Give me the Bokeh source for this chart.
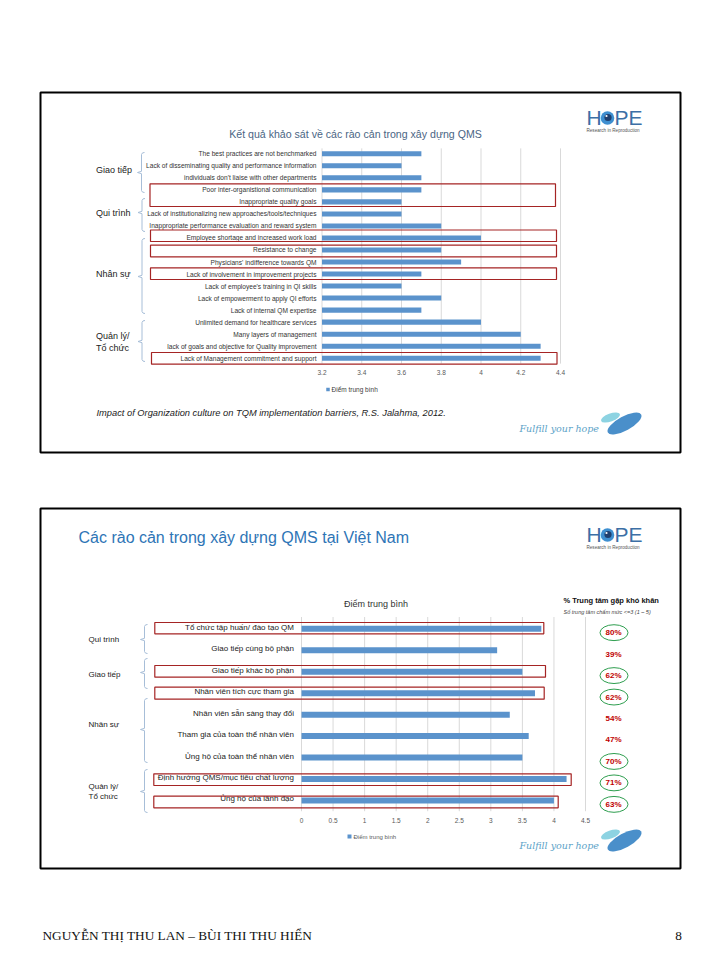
from bokeh.plotting import figure
from bokeh.models import Range1d
from bokeh.embed import file_html
from bokeh.resources import INLINE
from bokeh.core.properties import value

# ---------------- data: slide 1 ----------------
c1_labels = [
    "The best practices are not benchmarked",
    "Lack of disseminating quality and performance information",
    "individuals don't liaise with other departments",
    "Poor inter-organistional communication",
    "Inappropriate quality goals",
    "Lack of institutionalizing new approaches/tools/techniques",
    "Inappropriate performance evaluation and reward system",
    "Employee shortage and increased work load",
    "Resistance to change",
    "Physicians' indifference towards QM",
    "Lack of involvement in improvement projects",
    "Lack of employee's training in QI skills",
    "Lack of empowerment to apply QI efforts",
    "Lack of internal QM expertise",
    "Unlimited demand for healthcare services",
    "Many layers of management",
    "lack of goals and objective for Quality improvement",
    "Lack of Management commitment and support",
]
c1_values = [3.7, 3.6, 3.7, 3.7, 3.6, 3.6, 3.8, 4.0, 3.8, 3.9, 3.7, 3.6, 3.8, 3.7, 4.0, 4.2, 4.3, 4.3]
c1_ticks = [3.2, 3.4, 3.6, 3.8, 4.0, 4.2, 4.4]
c1_tick_labels = ["3.2", "3.4", "3.6", "3.8", "4", "4.2", "4.4"]
c1_groups = ["Giao tiếp", "Qui trình", "Nhân sự", "Quản lý/", "Tổ chức"]
c1_title = "Kết quả khảo sát về các rào cản trong xây dựng QMS"
c1_series = "Điểm trung bình"
c1_source = "Impact of Organization culture on TQM implementation barriers, R.S. Jalahma, 2012."

# ---------------- data: slide 2 ----------------
c2_labels = [
    "Tổ chức tập huấn/ đào tạo QM",
    "Giao tiếp cùng bộ phận",
    "Giao tiếp khác bộ phận",
    "Nhân viên tích cực tham gia",
    "Nhân viên sẵn sàng thay đổi",
    "Tham gia của toàn thể nhân viên",
    "Ủng hộ của toàn thể nhân viên",
    "Định hướng QMS/mục tiêu chất lượng",
    "Ủng hộ của lãnh đạo",
]
c2_values = [3.8, 3.1, 3.5, 3.7, 3.3, 3.6, 3.5, 4.2, 4.0]
c2_pct = ["80%", "39%", "62%", "62%", "54%", "47%", "70%", "71%", "63%"]
c2_circled = [True, False, True, True, False, False, True, True, True]
c2_ticks = [0, 0.5, 1, 1.5, 2, 2.5, 3, 3.5, 4, 4.5]
c2_tick_labels = ["0", "0.5", "1", "1.5", "2", "2.5", "3", "3.5", "4", "4.5"]
c2_groups = ["Qui trình", "Giao tiếp", "Nhân sự", "Quản lý/", "Tổ chức"]
c2_title = "Các rào cản trong xây dựng QMS tại Việt Nam"
c2_series = "Điểm trung bình"
c2_side_title = "% Trung tâm gặp khó khăn"
c2_side_sub = "Số trung tâm chấm mức <=3 (1 – 5)"

footer_left = "NGUYỄN THỊ THU LAN – BÙI THI THU HIỂN"
footer_right = "8"

BAR = "#5B93CC"
GRID = "#D9D9D9"
RED = "#A52424"
FONT = "Liberation Sans"

# page-pixel canvas (page coords, y downward)
p = figure(width=704, height=944, x_range=Range1d(0, 704), y_range=Range1d(944, 0),
           x_axis_type=None, y_axis_type=None, output_backend="svg",
           toolbar_location=None, min_border=0)
p.grid.visible = False
p.outline_line_color = None
p.background_fill_color = "white"


def span_range(v_a, p_a, v_b, p_b, p_start, p_end):
    k = (v_b - v_a) / (p_b - p_a)
    return Range1d(v_a + (p_start - p_a) * k, v_a + (p_end - p_a) * k)


# chart scales placed in the page
p.extra_x_ranges["v1"] = span_range(3.2, 321.5, 4.4, 560.0, 0, 704)
p.extra_y_ranges["r1"] = span_range(0, 153.3, 17, 357.7, 944, 0)
p.extra_x_ranges["v2"] = span_range(0, 301.0, 4.5, 585.0, 0, 704)
p.extra_y_ranges["r2"] = span_range(0, 628.3, 8, 800.0, 944, 0)


def txt(x, y, s, size, color="#222222", align="left", style="normal", font=FONT,
        xr="default", yr="default"):
    xs = x if isinstance(x, list) else [x]
    ys = y if isinstance(y, list) else [y]
    ss = s if isinstance(s, list) else [s]
    p.text(x=xs, y=ys, text=ss, text_font=value(font), text_font_size=f"{size}px",
           text_color=color, text_align=align, text_baseline="middle",
           text_font_style=style, x_range_name=xr, y_range_name=yr)


def box(l, r, t, b, color=RED, width=1.2):
    p.quad(left=l, right=r, top=t, bottom=b, fill_color=None, line_color=color, line_width=width)


def bracket(x, top, mid, bottom, color="#A7BED8"):
    xs = [x + 3, x + 1, x, x, x - 4, x, x, x + 1, x + 3]
    ys = [top, top + 0.4, top + 2, mid - 1.2, mid, mid + 1.2, bottom - 2, bottom - 0.4, bottom]
    p.line(xs, ys, line_color=color, line_width=1)


def hope_logo(dy):
    txt(586, 117 + dy, "H", 21, color="#3C6FA6", font="Liberation Sans")
    p.circle(x=[607], y=[117.5 + dy], radius=6.8, fill_color="#3E8FD0", line_color=None)
    p.circle(x=[607.5], y=[117 + dy], radius=3.6, fill_color="#1F3F6E", line_color=None)
    p.circle(x=[606], y=[115.5 + dy], radius=1.1, fill_color="white", line_color=None)
    txt(614, 117 + dy, "PE", 21, color="#3C6FA6", font="Liberation Sans")
    txt(586, 129.5 + dy, "Research in Reproduction", 4.6, color="#555555")


def leaves_logo(dy, dx=0):
    txt(519 + dx, 428 + dy, "Fulfill your hope", 9.5, color="#5DA3C8", style="italic",
        font="DejaVu Serif")
    p.ellipse(x=[610 + dx], y=[417 + dy], width=20, height=8, angle=0.35,
              fill_color="#8DD3E2", line_color=None)
    p.ellipse(x=[624 + dx], y=[423 + dy], width=38, height=14, angle=0.5,
              fill_color="#4A8FCA", line_color=None)


# ================= SLIDE 1 =================
box(40, 680, 92, 452, color="black", width=2)
hope_logo(0)
txt(355, 133, c1_title, 10.6, color="#4A6584", align="center")

# gridlines
p.segment(x0=c1_ticks, x1=c1_ticks, y0=[-0.45] * len(c1_ticks), y1=[17.45] * len(c1_ticks),
          x_range_name="v1", y_range_name="r1", line_color=GRID, line_width=1)
idx1 = list(range(len(c1_values)))
p.hbar(y=idx1, left=3.2, right=c1_values, height=0.42, x_range_name="v1", y_range_name="r1",
       fill_color=BAR, line_color=None)
txt(c1_ticks, [18.2] * len(c1_ticks), c1_tick_labels, 6.5, color="#595959", align="center",
    xr="v1", yr="r1")
txt([316] * len(c1_labels), idx1, c1_labels, 6.6, color="#333333", align="right", yr="r1")

# groups
txt([95.5] * 5, [169, 212, 273, 335.5, 347.5], c1_groups, 9, color="#222222")
bracket(141, 152, 172, 192)
bracket(141.5, 198, 212, 231)
bracket(141.5, 238, 276, 313)
bracket(141.5, 320, 341, 361)

# highlighted rows
box(149.5, 555, 183.3, 206)
box(150, 556, 229.5, 241)
box(150, 556, 244.7, 256.3)
box(150, 556, 267.3, 279)
box(151, 556.5, 352, 363.7)

# legend
p.rect(x=[327.5], y=[389], width=3.5, height=3.5, fill_color=BAR, line_color=None)
txt(331, 389, c1_series, 6.5, color="#404040")

txt(96, 412, c1_source, 9.3, color="#222222", style="italic")
leaves_logo(0)

# ================= SLIDE 2 =================
box(40, 680, 508, 868, color="black", width=2)
hope_logo(417)
txt(78, 537, c2_title, 16, color="#2E75B6")

txt(375.5, 603, c2_series, 9, color="#333333", align="center")
txt(563, 600, c2_side_title, 7.5, color="#111111", style="bold")
txt(563, 611, c2_side_sub, 5.5, color="#444444", style="italic")

p.segment(x0=c2_ticks, x1=c2_ticks, y0=[-0.55] * len(c2_ticks), y1=[8.5] * len(c2_ticks),
          x_range_name="v2", y_range_name="r2", line_color=GRID, line_width=1)
idx2 = list(range(len(c2_values)))
p.hbar(y=idx2, left=0, right=c2_values, height=0.28, x_range_name="v2", y_range_name="r2",
       fill_color=BAR, line_color=None)
txt(c2_ticks, [8.93] * len(c2_ticks), c2_tick_labels, 6.5, color="#595959", align="center",
    xr="v2", yr="r2")
txt([293.5] * len(c2_labels), [i - 0.07 for i in idx2], c2_labels, 8, color="#222222",
    align="right", yr="r2")

txt([88] * 5, [639, 674, 724, 786, 796], c2_groups, 8, color="#222222")
bracket(144, 624, 639, 653)
bracket(144, 658, 672, 688)
bracket(144, 698, 729, 762)
bracket(144, 769, 791, 812)

box(154.3, 543.3, 622, 633.3)
box(154.3, 545, 665, 676.7)
box(154.3, 543.7, 686.7, 698.7)
box(153.3, 570.7, 773.3, 785)
box(153.3, 557.7, 795.7, 807.3)

pct_y = [i + 0.18 for i in idx2]
txt([613] * len(c2_pct), pct_y, c2_pct, 8, color="#C00000", align="center", style="bold",
    yr="r2")
cy = [y for y, c in zip(pct_y, c2_circled) if c]
p.ellipse(x=[613.5] * len(cy), y=cy, width=28, height=0.74, y_range_name="r2",
          fill_color=None, line_color="#2E9E4F", line_width=1)

p.rect(x=[349], y=[836], width=4, height=4, fill_color=BAR, line_color=None)
txt(353, 836, c2_series, 6, color="#595959")

leaves_logo(417)

# footer
txt(42, 935, footer_left, 13.3, color="#111111", font="Liberation Serif")
txt(678, 935, footer_right, 13.3, color="#111111", align="center", font="Liberation Serif")

open("out.html", "w").write(file_html(p, INLINE))
